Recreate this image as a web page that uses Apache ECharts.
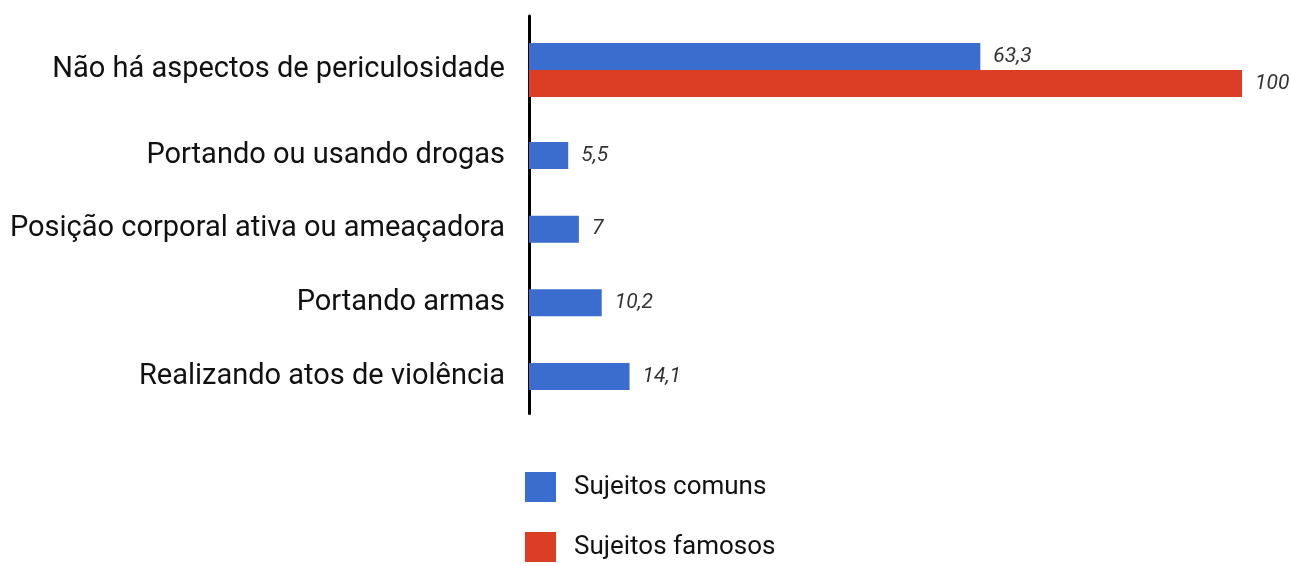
<!DOCTYPE html>
<html>
<head>
<meta charset="utf-8">
<script src="https://cdn.jsdelivr.net/npm/echarts@6/dist/echarts.min.js"></script>
<style>
  html, body { margin: 0; padding: 0; background: #fff; }
  #main { width: 1291px; height: 566px; }
</style>
</head>
<body>
<div id="main"></div>
<script>
// categorias e valores (%)
var categorias = [
    'Não há aspectos de periculosidade',
    'Portando ou usando drogas',
    'Posição corporal ativa ou ameaçadora',
    'Portando armas',
    'Realizando atos de violência'
];
var comuns = [63.3, 5.5, 7, 10.2, 14.1];
var famosos = [100];

var AZUL = '#3a6dcd';
var VERMELHO = '#db3e24';
var FONTE = 'Roboto, "Noto Sans", sans-serif';

function rotulo(v) {
    return String(v.value).replace('.', ',');
}
var labelBarra = {
    show: true,
    position: 'right',
    distance: 13,
    formatter: rotulo,
    fontStyle: 'italic',
    fontSize: 21,
    color: '#333',
    fontFamily: FONTE
};
var eixoCat = {
    type: 'category',
    inverse: true,
    axisLine: { show: true, lineStyle: { color: '#000', width: 3 } },
    axisTick: { show: false },
    axisLabel: { fontSize: 29, color: '#111', margin: 24, fontFamily: FONTE }
};

var chart = echarts.init(document.getElementById('main'));
chart.setOption({
    animation: false,
    legend: {
        orient: 'vertical',
        left: 525,
        top: 472,
        height: 100,
        padding: 0,
        icon: 'rect',
        itemWidth: 31,
        itemHeight: 30,
        itemGap: 30,
        data: ['Sujeitos comuns', 'Sujeitos famosos'],
        textStyle: { fontSize: 26, color: '#111', fontFamily: FONTE, padding: [0, 0, 0, 13] }
    },
    grid: [
        { left: 529, right: 49, top: 16, height: 108 },
        { left: 529, right: 49, top: 118.6, height: 294.8 }
    ],
    xAxis: [
        { type: 'value', gridIndex: 0, min: 0, max: 100, show: false },
        { type: 'value', gridIndex: 1, min: 0, max: 100, show: false }
    ],
    yAxis: [
        Object.assign({ gridIndex: 0, data: categorias.slice(0, 1) }, eixoCat),
        Object.assign({ gridIndex: 1, data: categorias.slice(1) }, eixoCat)
    ],
    series: [
        {
            name: 'Sujeitos comuns', type: 'bar', xAxisIndex: 0, yAxisIndex: 0,
            data: comuns.slice(0, 1), barWidth: 27, barGap: '0%',
            itemStyle: { color: AZUL }, label: labelBarra
        },
        {
            name: 'Sujeitos famosos', type: 'bar', xAxisIndex: 0, yAxisIndex: 0,
            data: famosos, barWidth: 27, barGap: '0%',
            itemStyle: { color: VERMELHO }, label: labelBarra
        },
        {
            name: 'Sujeitos comuns', type: 'bar', xAxisIndex: 1, yAxisIndex: 1,
            data: comuns.slice(1), barWidth: 27,
            itemStyle: { color: AZUL }, label: labelBarra
        }
    ]
});
</script>
</body>
</html>
